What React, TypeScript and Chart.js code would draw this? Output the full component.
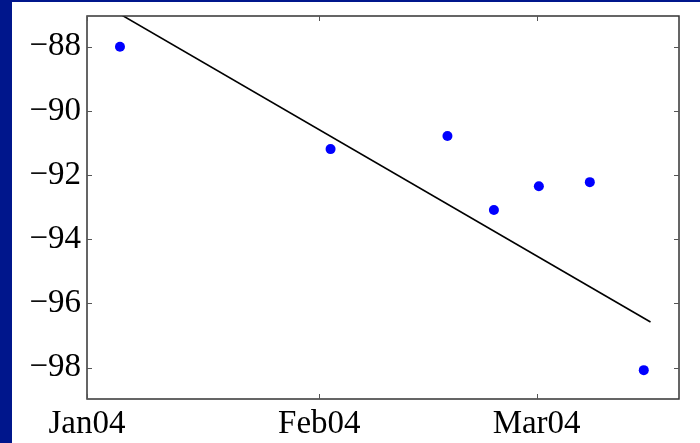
import React, { useEffect, useRef } from "react";
import { Chart, registerables } from "chart.js";

Chart.register(...registerables);

// Days since 1 Jan 2004
const pointDays = [4.4, 32.5, 48.1, 54.3, 60.3, 67.1, 74.3];
const pointValues = [-88.0, -91.19, -90.78, -93.09, -92.35, -92.22, -98.08];

const trendDays = [4.4, 75.2];
const trendValues = [-86.98, -96.58];

const xTickDays = [0, 31, 60];
const xTickLabels = ["Jan04", "Feb04", "Mar04"];
const yTickValues = [-88, -90, -92, -94, -96, -98];

const xMin = 0;
const xMax = 79;
const yMin = -98.98;
const yMax = -87.04;

const FONT = "'Liberation Serif', 'Times New Roman', serif";

const framePlugin = {
  id: "frame",
  afterDatasetsDraw(chart: any) {
    const { ctx, chartArea } = chart;
    const { left, right, top, bottom } = chartArea;
    const xs = chart.scales.x;
    const ys = chart.scales.y;
    ctx.save();
    ctx.strokeStyle = "#333333";
    ctx.lineWidth = 1.5;
    ctx.strokeRect(left, top, right - left, bottom - top);
    ctx.lineWidth = 1;
    ctx.strokeStyle = "#555555";
    const len = 5;
    ctx.beginPath();
    for (const v of xTickDays) {
      const px = Math.round(xs.getPixelForValue(v)) + 0.5;
      ctx.moveTo(px, bottom);
      ctx.lineTo(px, bottom - len);
      ctx.moveTo(px, top);
      ctx.lineTo(px, top + len);
    }
    for (const v of yTickValues) {
      const py = Math.round(ys.getPixelForValue(v)) + 0.5;
      ctx.moveTo(left, py);
      ctx.lineTo(left + len, py);
      ctx.moveTo(right, py);
      ctx.lineTo(right - len, py);
    }
    ctx.stroke();
    ctx.restore();
  },
};

export default function App() {
  const ref = useRef<HTMLCanvasElement | null>(null);

  useEffect(() => {
    if (!ref.current) return;
    const chart = new Chart(ref.current, {
      type: "scatter",
      data: {
        datasets: [
          {
            type: "line",
            label: "trend",
            data: trendDays.map((d, i) => ({ x: d, y: trendValues[i] })),
            borderColor: "#000000",
            borderWidth: 1.6,
            pointRadius: 0,
            fill: false,
            clip: 0,
            order: 2,
          } as any,
          {
            label: "data",
            data: pointDays.map((d, i) => ({ x: d, y: pointValues[i] })),
            backgroundColor: "#0000ff",
            borderColor: "#0000ff",
            pointRadius: 5,
            pointBorderWidth: 0,
            order: 1,
          },
        ],
      },
      options: {
        animation: false,
        responsive: false,
        maintainAspectRatio: false,
        layout: { padding: { top: 14, right: 21, left: 0, bottom: 0 } },
        plugins: {
          legend: { display: false },
          tooltip: { enabled: false },
        },
        scales: {
          x: {
            type: "linear",
            min: xMin,
            max: xMax,
            grid: { display: false, drawTicks: false, tickLength: 0 },
            border: { display: false },
            afterBuildTicks: (s: any) => {
              s.ticks = xTickDays.map((v) => ({ value: v }));
            },
            afterFit: (s: any) => {
              s.height = 44;
              s.paddingLeft = 0;
              s.paddingRight = 0;
            },
            ticks: {
              color: "#000000",
              font: { family: FONT, size: 33 },
              padding: 6,
              maxRotation: 0,
              autoSkip: false,
              callback: (v: any) => {
                const i = xTickDays.indexOf(Number(v));
                return i >= 0 ? xTickLabels[i] : "";
              },
            },
          },
          y: {
            type: "linear",
            min: yMin,
            max: yMax,
            grid: { display: false, drawTicks: false, tickLength: 0 },
            border: { display: false },
            afterBuildTicks: (s: any) => {
              s.ticks = yTickValues.map((v) => ({ value: v }));
            },
            afterFit: (s: any) => {
              s.width = 75;
              s.paddingTop = 0;
              s.paddingBottom = 0;
            },
            ticks: {
              color: "#000000",
              font: { family: FONT, size: 33 },
              padding: 6,
              autoSkip: false,
              callback: (v: any) => "\u2212" + String(Math.abs(Number(v))),
            },
          },
        },
      },
      plugins: [framePlugin],
    });
    return () => chart.destroy();
  }, []);

  return (
    <div
      style={{
        position: "fixed",
        left: 0,
        top: 0,
        width: 700,
        height: 443,
        background: "#00168c",
        overflow: "hidden",
      }}
    >
      <div
        style={{
          position: "absolute",
          left: 12,
          top: 2,
          width: 688,
          height: 441,
          background: "#ffffff",
        }}
      >
        <canvas ref={ref} width={688} height={441} style={{ display: "block" }} />
      </div>
    </div>
  );
}
